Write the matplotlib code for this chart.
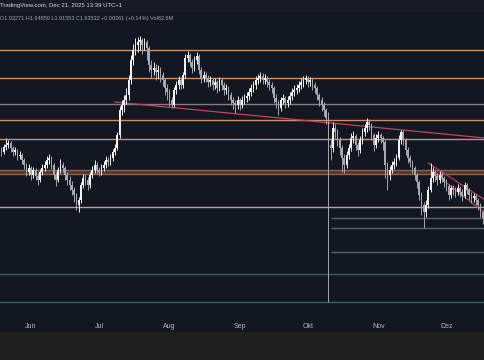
"""Daily XRP candles, May-Dec 2025, with hand-drawn levels (TradingView look)."""

import matplotlib
matplotlib.use("Agg")
import matplotlib.dates as mdates
import matplotlib.pyplot as plt
import numpy as np
import pandas as pd
from matplotlib.patches import Rectangle

# daily values in US cents, first candle 2025-05-18
first_open = 251
closes = [
    250, 248, 253, 255, 257, 252, 248, 250, 244, 245, 240, 235, 228, 232, 225, 230,
    224, 220, 228, 232, 235, 240, 242, 235, 225, 220, 230, 235, 232, 225, 220, 215,
    210, 205, 195, 200, 215, 222, 220, 215, 225, 230, 235, 230, 228, 232, 235, 240,
    238, 242, 248, 252, 265, 290, 295, 300, 305, 320, 340, 350, 355, 358, 360, 355,
    358, 352, 335, 330, 332, 328, 330, 325, 320, 312, 308, 300, 295, 310, 315, 320,
    315, 325, 342, 345, 338, 332, 340, 344, 330, 322, 325, 322, 318, 320, 315, 318,
    312, 320, 315, 310, 312, 305, 300, 297, 295, 300, 295, 300, 302, 304, 308, 312,
    315, 320, 322, 324, 320, 322, 318, 315, 312, 302, 298, 292, 300, 302, 297, 300,
    304, 308, 310, 312, 315, 318, 320, 322, 318, 320, 315, 312, 305, 300, 295, 290,
    282, 255, 252, 272, 268, 260, 252, 242, 235, 245, 252, 262, 264, 255, 250, 260,
    268, 272, 278, 275, 265, 255, 262, 265, 262, 258, 235, 225, 230, 235, 238, 242,
    260, 268, 260, 250, 242, 238, 232, 225, 218, 205, 195, 188, 195, 210, 222, 228,
    224, 220, 225, 222, 218, 214, 205, 212, 210, 208, 212, 208, 204, 215, 210, 205,
    202, 204, 200, 195, 188, 182, 176,
]
highs = [
    255, 253, 256, 262, 260, 259, 254, 253, 251, 249, 247, 242, 237, 236, 234, 233,
    232, 227, 231, 236, 239, 244, 246, 244, 237, 228, 233, 241, 238, 234, 228, 224,
    219, 213, 207, 203, 218, 226, 226, 223, 228, 234, 240, 238, 233, 236, 239, 244,
    243, 246, 251, 256, 268, 294, 300, 305, 312, 325, 345, 356, 362, 363, 364, 362,
    362, 360, 354, 340, 338, 336, 335, 333, 328, 322, 316, 311, 303, 313, 319, 324,
    323, 328, 346, 349, 347, 341, 344, 348, 346, 333, 329, 328, 325, 324, 322, 322,
    320, 323, 322, 318, 316, 314, 308, 303, 300, 304, 302, 304, 306, 308, 312, 316,
    319, 324, 326, 328, 327, 326, 324, 321, 318, 314, 306, 300, 303, 306, 304, 304,
    308, 312, 315, 316, 319, 322, 324, 325, 324, 323, 322, 318, 314, 307, 303, 298,
    292, 288, 262, 278, 276, 271, 263, 255, 246, 249, 256, 267, 269, 266, 258, 264,
    272, 276, 282, 281, 277, 267, 266, 269, 267, 264, 260, 238, 234, 239, 242, 246,
    265, 270, 270, 262, 253, 245, 240, 234, 227, 220, 208, 198, 200, 214, 237, 233,
    230, 227, 229, 228, 224, 221, 216, 215, 215, 213, 216, 214, 211, 218, 217, 212,
    208, 207, 206, 202, 197, 190, 184,
]
lows = [
    246, 244, 246, 250, 252, 248, 244, 245, 240, 241, 236, 231, 224, 225, 220, 222,
    220, 215, 218, 225, 229, 232, 236, 231, 221, 214, 218, 227, 228, 220, 215, 210,
    205, 198, 190, 188, 197, 212, 215, 210, 212, 222, 227, 226, 224, 225, 229, 232,
    234, 235, 239, 245, 250, 262, 285, 288, 296, 300, 316, 335, 345, 348, 350, 346,
    350, 340, 328, 322, 325, 320, 322, 318, 314, 305, 300, 294, 292, 293, 306, 311,
    311, 312, 322, 338, 334, 327, 329, 336, 326, 317, 318, 318, 313, 314, 310, 311,
    307, 309, 310, 305, 306, 300, 295, 291, 287, 291, 290, 292, 296, 298, 300, 304,
    308, 311, 316, 318, 316, 316, 313, 310, 307, 297, 292, 285, 289, 296, 292, 293,
    296, 300, 304, 306, 308, 311, 313, 316, 313, 314, 310, 307, 300, 294, 289, 284,
    276, 98, 240, 248, 262, 254, 245, 228, 227, 232, 241, 249, 257, 250, 244, 247,
    256, 264, 268, 270, 260, 249, 252, 258, 257, 250, 222, 210, 220, 227, 231, 234,
    240, 256, 255, 245, 237, 233, 227, 220, 212, 200, 185, 172, 183, 192, 208, 218,
    219, 215, 217, 218, 213, 209, 200, 202, 205, 203, 205, 203, 199, 202, 206, 200,
    197, 198, 195, 190, 183, 176, 170,
]
month_labels = ["Jun", "Jul", "Aug", "Sep", "Okt", "Nov", "Dez"]
month_starts = ["2025-06-01", "2025-07-01", "2025-08-01", "2025-09-01",
                "2025-10-01", "2025-11-01", "2025-12-01"]

# drawn levels, cents
orange_levels = [349, 321, 280, 261]
grey_level = 296
zone = (225, 230)
tan_level = 193
short_levels = [181, 172, 148]
teal_levels = [126, 98]

header = "TradingView.com, Dec 21, 2025 13:39 UTC+1"
ohlc_text = "O1.93271 H1.94859 L1.91553 C1.93532 +0.00261 (+0.14%) Vol82.6M"

BG = "#131722"
TXT = "#b2b5be"


def main():
    plt.rcParams["font.family"] = ["Liberation Sans", "DejaVu Sans"]

    c = np.array(closes) / 100
    h = np.array(highs) / 100
    l = np.array(lows) / 100
    o = np.concatenate([[first_open / 100], c[:-1]])
    dates = pd.date_range("2025-05-18", periods=len(c))
    x = mdates.date2num(dates)

    fig = plt.figure(figsize=(4.85, 3.6), dpi=100, facecolor="#1f1f1f")
    ax = fig.add_axes([0, 28 / 360, 1, 321 / 360])
    ax.set_facecolor(BG)
    fig.patches.append(Rectangle((0, 349 / 360), 1, 11 / 360, transform=fig.transFigure,
                                 color="#181b24", zorder=0))

    up = c >= o
    ax.vlines(x[up], l[up], h[up], color="#ececec", lw=0.7, zorder=4)
    ax.vlines(x[~up], l[~up], h[~up], color="#a4a6ae", lw=0.7, zorder=4)
    body_lo = np.minimum(o, c)
    body_h = np.maximum(np.abs(c - o), 0.012)
    ax.bar(x[up], body_h[up], bottom=body_lo[up], width=0.75, color="#f4f4f4",
           lw=0, zorder=5)
    ax.bar(x[~up], body_h[~up], bottom=body_lo[~up], width=0.75, color="#a8aab2",
           lw=0, zorder=5)

    # half a cent puts each 1px line on a pixel row
    for lv in orange_levels:
        ax.axhline(lv / 100 + 0.005, color="#d08d60", lw=1.0, zorder=2)
    ax.axhline(grey_level / 100 + 0.005, color="#8c7c7e", lw=1.0, zorder=2)
    ax.axhspan(zone[0] / 100, zone[1] / 100, color="#4d3730", lw=0, zorder=1)
    for lv in zone:
        ax.axhline(lv / 100 + 0.005, color="#8f6045", lw=1.0, zorder=2)
    ax.axhline(tan_level / 100 + 0.005, color="#b3a68c", lw=1.0, zorder=2)
    x_short = mdates.date2num(pd.Timestamp("2025-10-11"))
    x_end = mdates.date2num(pd.Timestamp("2025-12-25"))
    for lv in short_levels:
        ax.hlines(lv / 100 + 0.005, x_short, x_end, color="#5d6069", lw=1.0, zorder=2)
    for lv in teal_levels:
        ax.axhline(lv / 100 + 0.005, color="#2c6466", lw=1.0, zorder=2)

    # trend lines
    d = lambda s: mdates.date2num(pd.Timestamp(s))
    ax.plot([d("2025-07-08"), d("2025-12-18")], [2.98, 2.62], color="#c2445e",
            lw=0.9, zorder=3)
    ax.plot([d("2025-11-23"), d("2025-12-18")], [2.37, 2.00], color="#c2445e",
            lw=0.8, zorder=3)
    ax.plot([d("2025-11-25"), d("2025-12-18")], [2.28, 1.87], color="#c2445e",
            lw=0.8, zorder=3)

    ax.set_xlim(x[0] + 0.35, x[0] + 214.0)
    ax.set_ylim(0.68, 3.89)
    for s in ax.spines.values():
        s.set_visible(False)
    ax.set_xticks([])
    ax.set_yticks([])

    for lab, ms in zip(month_labels, month_starts):
        ax.text(d(ms), 0.74, lab, color=TXT, fontsize=5, ha="center", va="center")

    fig.text(0.0, 354.5 / 360, header, color="#d8d8d8", fontsize=4.3, va="center")
    fig.text(0.0, 341.5 / 360, ohlc_text, color="#9ea3ad", fontsize=4.0, va="center")

    fig.savefig("out.png", dpi=100, facecolor=fig.get_facecolor())


if __name__ == "__main__":
    main()
